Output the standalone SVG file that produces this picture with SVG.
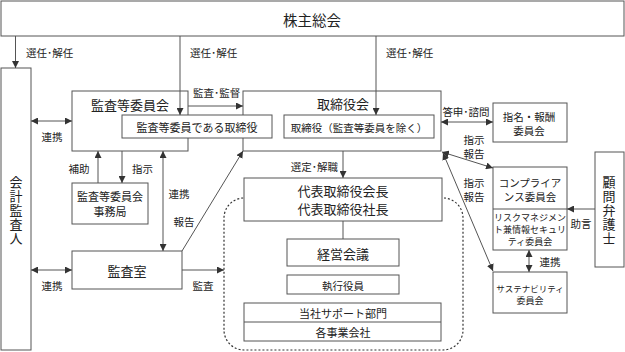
<svg xmlns="http://www.w3.org/2000/svg" width="625" height="352" viewBox="0 0 625 352">
<defs>
<marker id="ah" viewBox="0 0 8 8" refX="8" refY="4" markerWidth="7" markerHeight="7" markerUnits="userSpaceOnUse" orient="auto-start-reverse">
<path d="M0,0 L8,4 L0,8 z" fill="#333"/>
</marker>
<style>
text{font-family:"Noto Sans CJK JP","Noto Sans CJK SC",sans-serif;fill:#222;dominant-baseline:central;text-anchor:middle}
.box{fill:#fff;stroke:#555;stroke-width:1}
.ln{fill:none;stroke:#555;stroke-width:1}
.a{marker-end:url(#ah)}
.d{marker-start:url(#ah);marker-end:url(#ah)}
.lb{font-size:10.5px}
.t13{font-size:13px}
.t11{font-size:11px}
.s{text-anchor:start}
.e{text-anchor:end}
.v{font-size:13px;writing-mode:vertical-rl;letter-spacing:1px}
</style>
</defs>
<rect width="625" height="352" fill="#fff"/>
<g id="boundary">
<rect x="224" y="198" width="239" height="152" rx="20" fill="none" stroke="#333" stroke-width="1.2" stroke-dasharray="2,2"/>
</g>
<g id="agm"><rect class="box" x="1" y="1" width="623" height="35"/><text x="312" y="19" style="font-size:14.5px">株主総会</text></g>
<g id="auditor"><rect class="box" x="1" y="68" width="30" height="282"/>
<text class="v" x="16" y="211">会計監査人</text></g>
<g id="acc"><rect class="box" x="72" y="91" width="116" height="60"/><text class="t13" x="130" y="104">監査等委員会</text></g>
<g id="board"><rect class="box" x="243" y="91" width="198" height="60"/><text class="t13" x="343" y="103">取締役会</text></g>
<g id="acc-dir"><rect class="box" x="122" y="115" width="150" height="23"/><text class="t11" x="197" y="127">監査等委員である取締役</text></g>
<g id="dir"><rect class="box" x="284" y="115" width="150" height="23"/><text x="359" y="127" style="font-size:10.5px">取締役（監査等委員を除く）</text></g>
<g id="acc-office"><rect class="box" x="72" y="183" width="76" height="41"/><text class="t11" x="110" y="196">監査等委員会</text><text class="t11" x="110" y="211">事務局</text></g>
<g id="audit-office"><rect class="box" x="72" y="251" width="110" height="38"/><text class="t13" x="127" y="270">監査室</text></g>
<g id="ceo"><rect class="box" x="244" y="178" width="198" height="43"/><text class="t13" x="343" y="190.5">代表取締役会長</text><text class="t13" x="343" y="208.5">代表取締役社長</text></g>
<g id="mgmt"><rect class="box" x="287" y="239" width="112" height="27"/><text class="t13" x="343" y="253">経営会議</text></g>
<g id="officers"><rect class="box" x="287" y="275" width="112" height="19"/><text x="343" y="285" style="font-size:10.5px">執行役員</text></g>
<g id="support"><rect class="box" x="244" y="303" width="197" height="38"/><line class="ln" x1="244" y1="322" x2="441" y2="322"/><text class="t11" x="343" y="313">当社サポート部門</text><text class="t11" x="343" y="332">各事業会社</text></g>
<g id="nomination"><rect class="box" x="493" y="103" width="74" height="39"/><text x="529" y="116" style="font-size:10.5px">指名・報酬</text><text x="529" y="130" style="font-size:10.5px">委員会</text></g>
<g id="compliance"><rect class="box" x="493" y="167" width="74" height="83"/><line class="ln" x1="493" y1="209" x2="567" y2="209"/>
<text x="530" y="182" style="font-size:10.5px">コンプライア</text><text x="530" y="196" style="font-size:10.5px">ンス委員会</text>
<text x="530" y="217" style="font-size:9px">リスクマネジメン</text><text x="530" y="229" style="font-size:9px">ト兼情報セキュリ</text><text x="530" y="241" style="font-size:9px">ティ委員会</text></g>
<g id="sustain"><rect class="box" x="493" y="272" width="74" height="41"/><text x="530" y="288" style="font-size:8.5px">サステナビリティ</text><text x="530" y="300" style="font-size:9px">委員会</text></g>
<g id="lawyer"><rect class="box" x="595" y="152" width="29" height="115"/>
<text class="v" x="609" y="211">顧問弁護士</text></g>
<g id="connectors">
<line class="ln a" x1="15.5" y1="36" x2="15.5" y2="68"/>
<line class="ln a" x1="180" y1="36" x2="180" y2="115"/>
<line class="ln a" x1="376" y1="36" x2="376" y2="115"/>
<line class="ln a" x1="188" y1="106" x2="243" y2="106"/>
<line class="ln d" x1="31" y1="121" x2="72" y2="121"/>
<line class="ln a" x1="98" y1="183" x2="98" y2="151"/>
<line class="ln a" x1="122" y1="151" x2="122" y2="183"/>
<line class="ln d" x1="163" y1="151" x2="163" y2="251"/>
<line class="ln a" x1="182" y1="251" x2="243" y2="151"/>
<line class="ln d" x1="31" y1="270" x2="72" y2="270"/>
<line class="ln a" x1="182" y1="270" x2="224" y2="270"/>
<line class="ln a" x1="343" y1="151" x2="343" y2="178"/>
<line class="ln" x1="343" y1="221" x2="343" y2="239"/>
<line class="ln d" x1="441" y1="122" x2="493" y2="122"/>
<line class="ln d" x1="442" y1="152" x2="493" y2="168"/>
<line class="ln d" x1="443" y1="153" x2="493" y2="271"/>
<line class="ln d" x1="529" y1="250" x2="529" y2="272"/>
<line class="ln a" x1="595" y1="209" x2="567" y2="209"/>
<text class="lb s" x="26" y="52">選任･解任</text>
<text class="lb s" x="190" y="52">選任･解任</text>
<text class="lb s" x="386" y="52">選任･解任</text>
<text class="lb s" x="193" y="92">監査･監督</text>
<text class="lb" x="52" y="136">連携</text>
<text class="lb" x="79" y="168">補助</text>
<text class="lb s" x="132" y="168">指示</text>
<text class="lb" x="179" y="193">連携</text>
<text class="lb" x="184" y="221">報告</text>
<text class="lb" x="52" y="285">連携</text>
<text class="lb" x="203" y="285">監査</text>
<text class="lb e" x="338" y="166">選定･解職</text>
<text class="lb" x="466" y="111">答申･諮問</text>
<text class="lb" x="474" y="139">指示</text>
<text class="lb" x="474" y="153">報告</text>
<text class="lb" x="474" y="182">指示</text>
<text class="lb" x="474" y="196">報告</text>
<text class="lb" x="550" y="261">連携</text>
<text class="lb" x="581" y="223">助言</text>
</g>
</svg>
